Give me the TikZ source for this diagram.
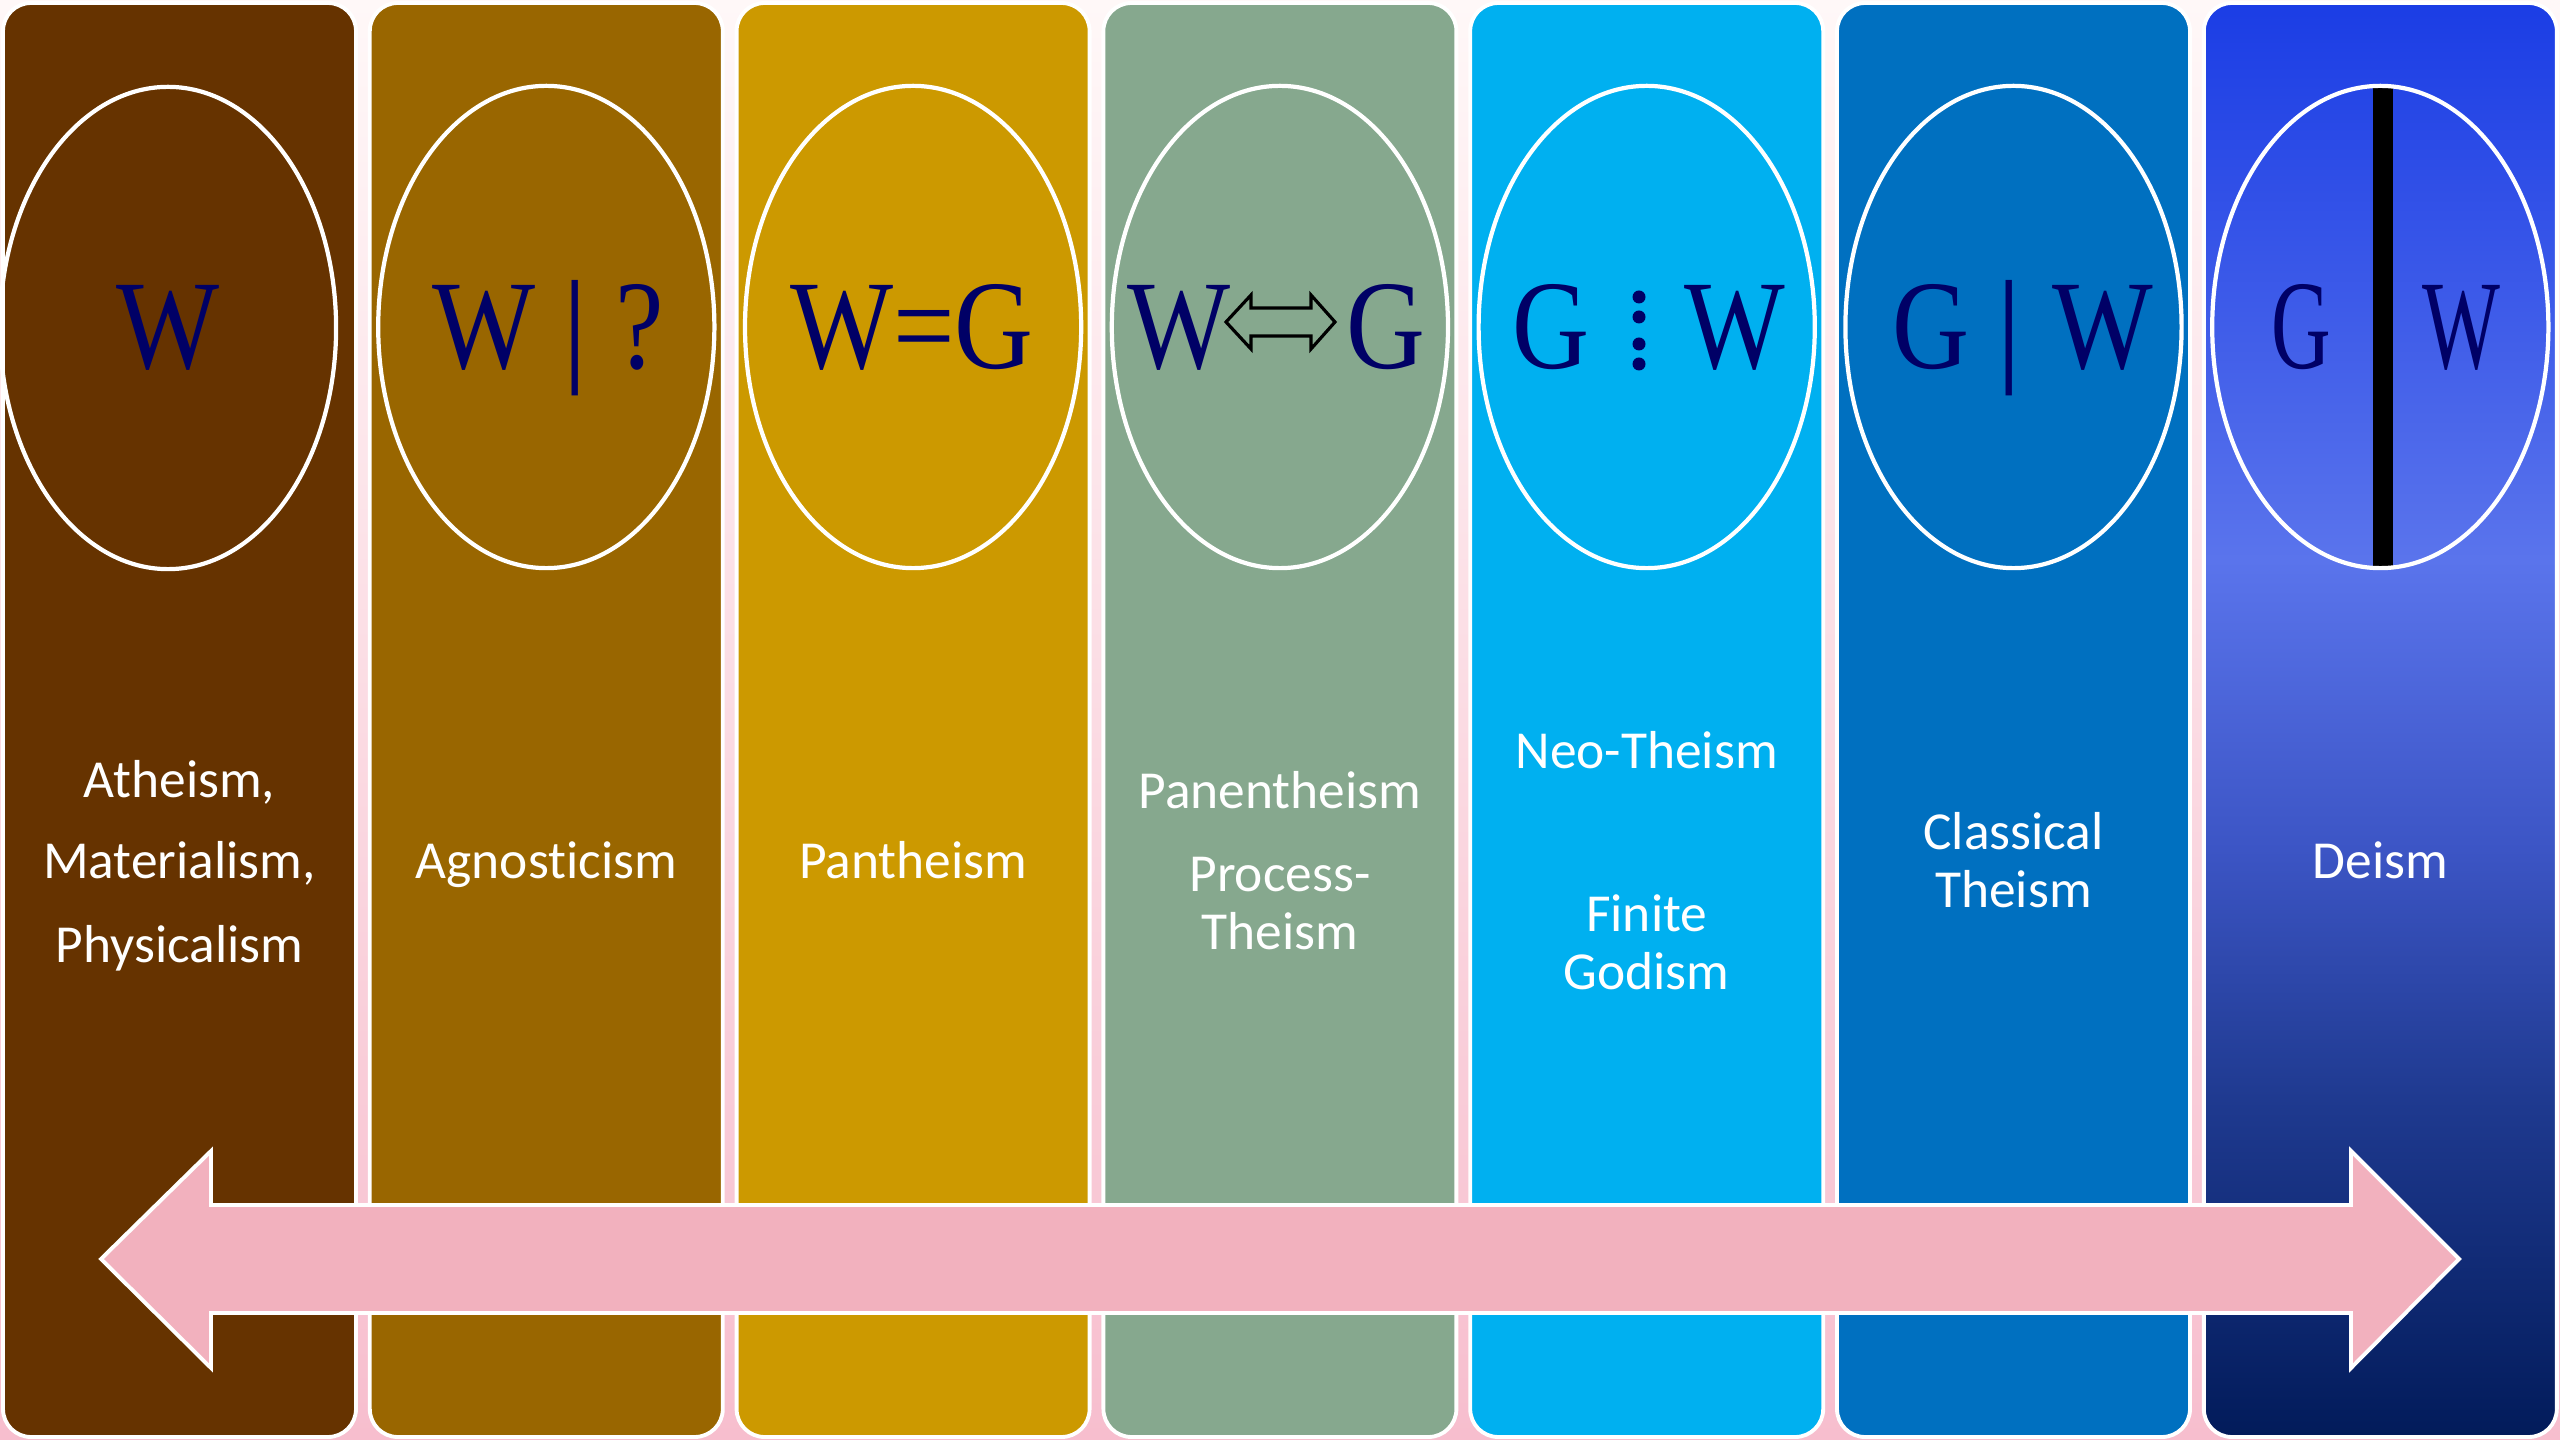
\documentclass[tikz,border=0pt]{standalone}
\usepackage{fontspec}
\usepackage{graphicx}
\newfontfamily\labfont[Ligatures=NoCommon]{Carlito}
\newfontfamily\symfont{Liberation Serif}
\usetikzlibrary{shapes.geometric}

\definecolor{bgtop}{RGB}{255,248,248}
\definecolor{bgbot}{RGB}{247,190,206}
\definecolor{cA}{RGB}{102,51,0}
\definecolor{cB}{RGB}{153,102,0}
\definecolor{cC}{RGB}{204,153,0}
\definecolor{cD}{RGB}{134,168,142}
\definecolor{cE}{RGB}{0,176,240}
\definecolor{cF}{RGB}{0,112,192}
\definecolor{dTop}{RGB}{27,61,229}
\definecolor{dMid}{RGB}{90,116,236}
\definecolor{dLow}{RGB}{60,85,197}
\definecolor{dLower}{RGB}{31,58,144}
\definecolor{dBot}{RGB}{2,27,90}
\definecolor{navy}{RGB}{0,0,102}
\definecolor{arrowpink}{RGB}{242,177,190}

\pgfdeclareverticalshading{deismshade}{100bp}{color(0bp)=(dBot); color(25bp)=(dBot); color(36.8bp)=(dLower); color(45.5bp)=(dLow); color(55.6bp)=(dMid); color(75bp)=(dTop); color(100bp)=(dTop)}

\begin{document}
\begin{tikzpicture}[x=0.01cm,y=-0.01cm,
  col/.style={draw=white, line width=1.1pt, rounded corners=0.28cm},
  oval/.style={draw=white, line width=1.2pt, ellipse, minimum width=3.36cm, minimum height=4.82cm, inner sep=0pt},
  lab/.style={text=white, font=\labfont\fontsize{15.2}{18}\selectfont, anchor=base, inner sep=0pt},
  sym/.style={text=navy, font=\symfont\fontsize{36.1}{40}\selectfont, anchor=base, inner sep=0pt},
  dot/.style={fill=navy}
  ]
\useasboundingbox (0,0) rectangle (2560,1440);
\shade[top color=bgtop, bottom color=bgbot] (0,0) rectangle (2560,1440);

% columns
\foreach \i/\c in {0/cA,1/cB,2/cC,3/cD,4/cE,5/cF} {
  \path[col, fill=\c] ({3+366.8*\i},3) rectangle ++(353,1434);
}
\shadedraw[col, shading=deismshade] (2203.8,3) rectangle ++(353,1434);

% deism bar (behind ellipse outline)
\fill[black] (2373,87) rectangle (2393,567);

% ellipses
\node[oval] (o1) at (168,328) {};
\node[oval] (o2) at (546.3,327) {};
\node[oval] (o3) at (913.1,327) {};
\node[oval] (o4) at (1279.9,327) {};
\node[oval] (o5) at (1646.7,327) {};
\node[oval] (o6) at (2013.5,327) {};
\node[oval] (o7) at (2380.3,327) {};

% symbols
\node[sym] (s1) at (168,369) {\scalebox{0.86}[1]{W}};
\node[sym] (s2a) at (484,369) {\scalebox{0.86}[1]{W}};
\node[sym] (s2b) at (575,369) {|};
\node[sym] (s2c) at (639.5,369) {\scalebox{0.86}[1]{?}};
\node[sym] (s3) at (912,369) {\scalebox{0.86}[1]{W=G}};
\node[sym] (s4a) at (1179,369) {\scalebox{0.86}[1]{W}};
\node[sym] (s4b) at (1385.5,369) {\scalebox{0.86}[1]{G}};
\draw[black, line width=0.9pt, line join=miter]
  (1226,322) -- (1251,295) -- (1251,308) -- (1311,308) -- (1311,295) -- (1335,322)
  -- (1311,349) -- (1311,336) -- (1251,336) -- (1251,349) -- cycle;
\node[sym] (s5a) at (1551,369) {\scalebox{0.84}[1]{G}};
\node[sym] (s5b) at (1735,369) {\scalebox{0.84}[1]{W}};
\foreach \yy in {297,317,344,364} { \fill[dot] (1639,\yy) circle[radius=0.065cm]; }
\node[sym] (s6a) at (1931,369) {\scalebox{0.84}[1]{G}};
\node[sym] (s6b) at (2009,369) {|};
\node[sym] (s6c) at (2103,369) {\scalebox{0.84}[1]{W}};
\node[sym] (s7a) at (2301,369) {\scalebox{0.65}[1]{G}};
\node[sym] (s7b) at (2461.5,369) {\scalebox{0.65}[1]{W}};

% double arrow
\draw[draw=white, line width=1.1pt, fill=arrowpink, line join=miter]
  (101,1259) -- (211,1151) -- (211,1205) -- (2351,1205) -- (2351,1151) -- (2459,1259)
  -- (2351,1368) -- (2351,1313) -- (211,1313) -- (211,1368) -- cycle;

% labels
\node[lab] (l1a) at (179.5,798) {Atheism,};
\node[lab] (l1b) at (179.5,879) {Materialism,};
\node[lab] (l1c) at (179.5,962) {Physicalism};
\node[lab] (l2) at (546.3,879) {Agnosticism};
\node[lab] (l3) at (913.1,879) {Pantheism};
\node[lab] (l4a) at (1279.9,809) {Panentheism};
\node[lab] (l4b) at (1279.9,891) {Process-};
\node[lab] (l4c) at (1279.9,949) {Theism};
\node[lab] (l5a) at (1646.7,768) {Neo-Theism};
\node[lab] (l5b) at (1646.7,932) {Finite};
\node[lab] (l5c) at (1646.7,989) {Godism};
\node[lab] (l6a) at (2013.5,850) {Classical};
\node[lab] (l6b) at (2013.5,908) {Theism};
\node[lab] (l7) at (2380.3,879) {Deism};
\end{tikzpicture}
\end{document}
